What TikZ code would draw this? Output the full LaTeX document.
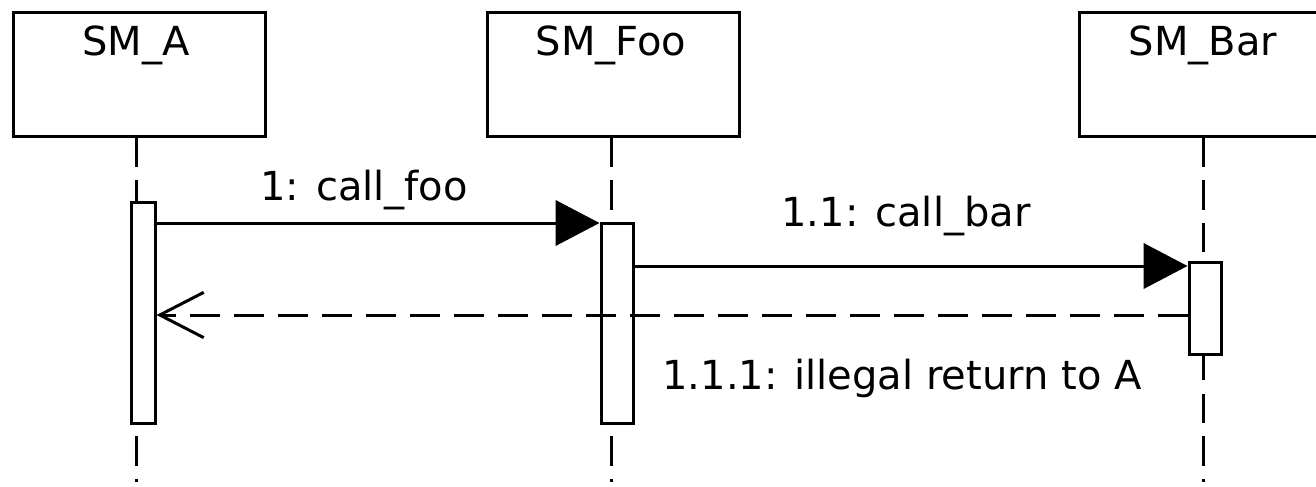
\documentclass[tikz,border=0pt]{standalone}
\usepackage{fontspec}
\setmainfont{DejaVu Sans}
\usetikzlibrary{arrows.meta}
\begin{document}
\begin{tikzpicture}[x=0.75pt,y=-0.75pt,
  every node/.style={font=\fontsize{30}{36}\selectfont, inner sep=0pt},
  lw/.style={line width=2.25pt},
  objbox/.style={lw, draw, fill=white, minimum width=189pt, minimum height=93pt},
  actbar/.style={lw, draw, fill=white, minimum width=18pt},
  life/.style={lw, dash pattern=on 22pt off 10pt},
  callmsg/.style={lw, -{Triangle[length=33pt,width=34pt]}},
  retmsg/.style={lw, dash pattern=on 22pt off 11pt, -{Straight Barb[length=33pt,width=34pt]}},
  lbl/.style={anchor=base}]
  \useasboundingbox (0,0) rectangle (1316,486);
  \clip (0,0) rectangle (1316,486);

  % object heads
  \node[objbox] (A)   at (139,74) {};
  \node[objbox] (Foo) at (613.5,74) {};
  \node[objbox] (Bar) at (1205.5,74) {};
  \node[lbl] (Atxt)   at (136,55)  {SM\_A};
  \node[lbl] (Footxt) at (611,55)  {SM\_Foo};
  \node[lbl] (Bartxt) at (1203,55) {SM\_Bar};

  % lifeline ends
  \coordinate (Aend)   at (136,482);
  \coordinate (Fooend) at (611,482);
  \coordinate (Barend) at (1203,482);
  \draw[life] (A.south -| Aend) -- (Aend);
  \draw[life] (Foo.south -| Fooend) -- (Fooend);
  \draw[life] (Bar.south -| Barend) -- (Barend);

  % activation bars
  \node[actbar, minimum width=18pt, minimum height=166pt] (actA)   at (143,313) {};
  \node[actbar, minimum width=24pt, minimum height=150pt] (actFoo) at (617,323) {};
  \node[actbar, minimum width=24pt, minimum height=69pt]  (actBar) at (1205,308) {};

  % messages
  \draw[callmsg] (actA.east |- 0,223) -- (actFoo.west |- 0,223);
  \draw[callmsg] (actFoo.east |- 0,266) -- (actBar.west |- 0,266);
  \draw[retmsg]  (actBar.west |- 0,315) -- (actA.east |- 0,315);

  % message labels
  \node[lbl] (m1)  at (364,200) {1: call\_foo};
  \node[lbl] (m2)  at (906,226) {1.1: call\_bar};
  \node[lbl] (m3)  at (902,389) {1.1.1: illegal return to A};
\end{tikzpicture}
\end{document}
